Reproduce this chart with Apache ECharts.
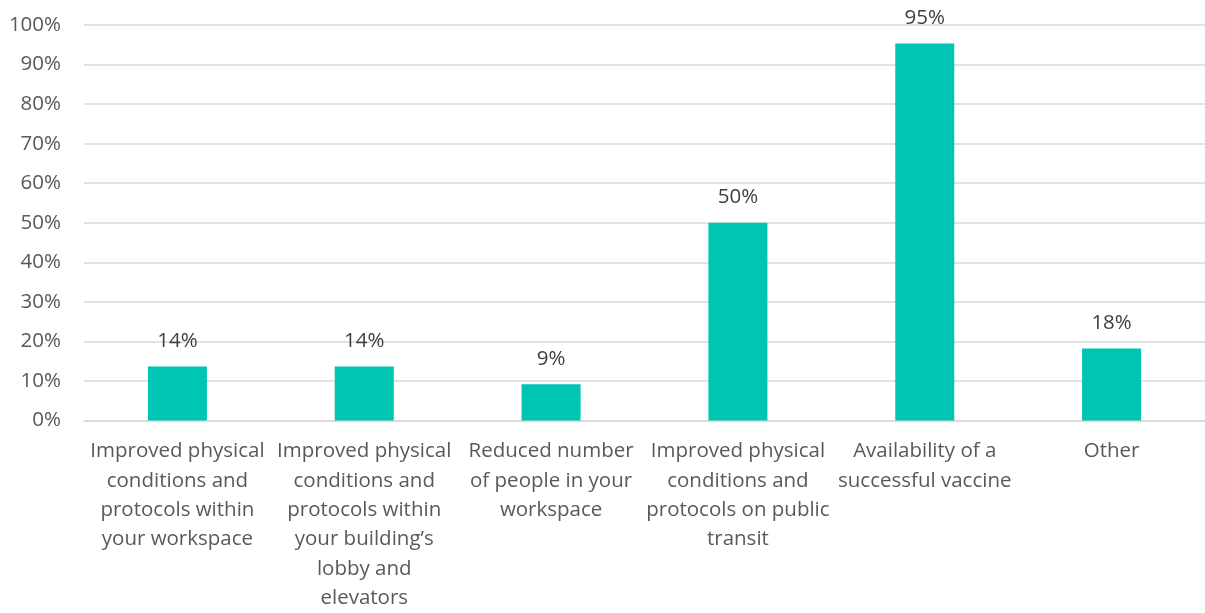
<!DOCTYPE html>
<html><head><meta charset="utf-8">
<script src="https://cdn.jsdelivr.net/npm/echarts@6/dist/echarts.min.js"></script>
<style>html,body{margin:0;padding:0;background:#fff;overflow:hidden}#c{width:1205px;height:613px}</style>
</head><body><div id="c"></div>
<script>
const categories = [
  "Improved physical\nconditions and\nprotocols within\nyour workspace",
  "Improved physical\nconditions and\nprotocols within\nyour building\u2019s\nlobby and\nelevators",
  "Reduced number\nof people in your\nworkspace",
  "Improved physical\nconditions and\nprotocols on public\ntransit",
  "Availability of a\nsuccessful vaccine",
  "Other"
];
const values = [13.7, 13.7, 9.2, 50, 95.3, 18.2];
const yTicks = [0, 10, 20, 30, 40, 50, 60, 70, 80, 90, 100];

const FONT = "Open Sans";
const FS = 20.5;
const chart = echarts.init(document.getElementById('c'));
chart.setOption({
  animation: false,
  grid: {left: 84, right: -5, top: 25, bottom: 187.3, containLabel: false},
  xAxis: {
    type: 'category', data: categories,
    axisLine: {show: true, lineStyle: {color: '#d9d9d9', width: 1.5}},
    axisTick: {show: false},
    axisLabel: {interval: 0, color: '#595959', fontFamily: FONT, fontSize: FS, lineHeight: 29.4, margin: 16}
  },
  yAxis: {
    type: 'value', min: yTicks[0], max: yTicks[yTicks.length-1], interval: 10,
    axisLine: {show: false}, axisTick: {show: false},
    splitLine: {lineStyle: {color: '#d9d9d9', width: 1.5}},
    axisLabel: {formatter: v => v + '%', color: '#595959', fontFamily: FONT, fontSize: FS, margin: 23}
  },
  series: [{
    type: 'bar', data: values, barWidth: 59,
    itemStyle: {color: '#00C5B3'},
    label: {show: true, position: 'top', distance: 15, color: '#404040', fontFamily: FONT, fontSize: FS,
      formatter: p => Math.round(p.value) + '%'}
  }]
});
</script></body></html>
